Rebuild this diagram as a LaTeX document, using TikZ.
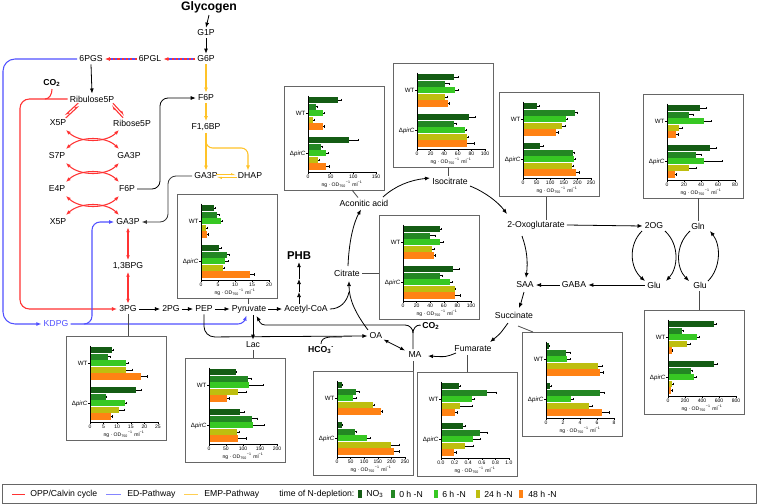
\documentclass[tikz,border=0pt]{standalone}
\usepackage{fontspec}
\setmainfont{Liberation Sans}
\usetikzlibrary{arrows.meta}
\definecolor{col1}{RGB}{20,92,20}
\definecolor{col2}{RGB}{35,135,35}
\definecolor{col3}{RGB}{55,200,35}
\definecolor{col4}{RGB}{190,190,15}
\definecolor{col5}{RGB}{255,130,20}
\definecolor{oppred}{RGB}{255,50,50}
\definecolor{edblue}{RGB}{80,80,255}
\definecolor{empyel}{RGB}{255,195,40}
\tikzset{
 lab/.style={font=\fontsize{6.5}{7.5}\selectfont, inner sep=1.5pt},
 blab/.style={font=\bfseries\fontsize{6.5}{7.5}\selectfont, inner sep=1.5pt},
 myarr/.style={-{Latex[length=3.8pt,width=3pt]}},
 mydarr/.style={{Latex[length=3.6pt,width=2.8pt]}-{Latex[length=3.6pt,width=2.8pt]}},
 myharp/.style={-{Latex[length=3.2pt,width=2.6pt,left]}},
 blk/.style={draw=black, line width=0.6pt},
 redl/.style={draw=oppred, line width=0.8pt},
 bluel/.style={draw=edblue, line width=0.8pt},
 yel/.style={draw=empyel, line width=0.8pt},
 conn/.style={draw=black!70, line width=0.6pt},
 chartbox/.style={draw=black!60, line width=0.7pt, fill=white},
 ticklab/.style={font=\fontsize{3.8}{4.4}\selectfont, inner sep=0pt},
 grplab/.style={font=\fontsize{4.6}{5.2}\selectfont, inner sep=0.5pt, anchor=east},
 axtitle/.style={font=\fontsize{3.8}{4.4}\selectfont, inner sep=0pt},
}
% #1 left, #2 top, #3 axis max, #4 tick labels, #5 value/error list (5 WT, 5 pirC)
\newcommand{\barchart}[5]{%
\begin{scope}[shift={(#1,#2)}]
 \draw[chartbox] (0,0) rectangle (100,104);
 \foreach \v/\e [count=\i] in {#5}{
   \pgfmathsetmacro{\yy}{11+(\i-1)*6.6+7*(\i>5)}
   \pgfmathtruncatemacro{\ci}{mod(\i-1,5)+1}
   \pgfmathsetmacro{\xl}{24+\v/#3*68}
   \pgfmathsetmacro{\xe}{24+(\v+\e)/#3*68}
   \fill[col\ci] (24,\yy) rectangle (\xl,\yy+6.1);
   \draw[line width=0.4pt] (\xl,\yy+3.05) -- (\xe,\yy+3.05) (\xe,\yy+1.9) -- (\xe,\yy+4.2);
 }
 \draw[line width=0.5pt] (24,9.5) -- (24,86) -- (92,86);
 \foreach \t in {#4}{
   \pgfmathsetmacro{\tx}{24+\t/#3*68}
   \draw[line width=0.4pt] (\tx,86) -- (\tx,87.6);
   \node[ticklab] at (\tx,91) {\t};
 }
 \draw[line width=0.4pt] (22.3,27.5) -- (24,27.5) (22.3,67.5) -- (24,67.5);
 \node[grplab] at (22.3,27.5) {WT};
 \node[grplab] at (22.3,67.5) {Δ\textit{pirC}};
 \node[axtitle] at (58,98.5) {ng · OD\textsubscript{750}\textsuperscript{−1}\,\,ml\textsuperscript{−1}};
\end{scope}}

\begin{document}
\begin{tikzpicture}[x=0.75pt,y=-0.75pt]
\useasboundingbox (0,0) rectangle (758,504);
\fill[white] (0,0) rectangle (758,504);

% ---------- charts ----------
\barchart{284}{86}{150}{0,50,100,150}{66/7,18/3,33/2,11/3,33/2,91/20,29/3,40/5,22/3,40/6}
\barchart{393}{63}{100}{0,20,40,60,80,100}{55/5,41/6,56/4,41/4,45/3,77/8,54/4,71/2,74/1,74/10}
\barchart{499}{92}{250}{0,50,100,150,200,250}{50/10,190/8,159/5,144/12,121/8,63/12,184/5,188/5,181/5,196/12}
\barchart{643}{94}{80}{0,20,40,60,80}{39/7,26/5,43/9,14/4,10/3,50/8,34/6,44/21,26/9,9/2}
\barchart{177}{194}{20}{0,5,10,15,20}{3.8/0.5,4.8/0.5,5.8/0.6,1.6/0.3,1.8/0.4,5.4/0.6,7.6/0.6,7.2/0.7,6.4/0.5,14.4/1.2}
\barchart{66}{336}{25}{0,5,10,15,20,25}{8.1/0.3,6.6/1,13.4/0.8,13.4/2,18.7/2.5,16.9/2,5.7/0.3,12.8/0.5,10.6/2,7.8/0.4}
\barchart{185}{358}{200}{0,50,100,150,200}{78/3,116/8,119/42,86/23,53/8,90/15,126/15,129/33,83/5,86/23}
\barchart{379}{215}{100}{0,20,40,60,80,100}{54/3,40/8,55/4,42/4,45/3,74/9,54/4,69/3,76/1,76/8}
\barchart{313}{371}{250}{0,50,100,150,200,250}{18/2,71/10,60/10,131/6,160/8,19/2,67/4,109/15,199/30,208/20}
\barchart{417}{372}{1.0}{0.0,0.2,0.4,0.6,0.8,1.0}{0.26/0.03,0.68/0.13,0.45/0.04,0.28/0.18,0.20/0.04,0.32/0.03,0.58/0.1,0.47/0.11,0.35/0.12,0.19/0.04}
\barchart{522}{332}{8}{0,2,4,6,8}{0.3/0.1,2.4/0.4,2.5/0.3,6.1/0.5,6.4/0.3,0.5/0.1,6.3/0.5,2.9/0.3,5.1/0.3,6.6/0.8}
\barchart{644}{310}{800}{0,200,400,600,800}{545/20,166/10,347/20,222/40,44/5,537/40,275/15,307/30,52/15,40/5}

% ---------- nodes ----------
\node[font=\bfseries\fontsize{9.2}{10}\selectfont, inner sep=1.5pt] (glyc) at (209,7) {Glycogen};
\node[lab] (g1p) at (206,33) {G1P};
\node[lab] (g6p) at (206,59) {G6P};
\node[lab] (pgl) at (150,59) {6PGL};
\node[lab] (pgs) at (91,59) {6PGS};
\node[blab] (co2a) at (52,83) {CO\textsubscript{2}};
\node[lab] (ru5p) at (92,99) {Ribulose5P};
\node[lab] (x5pa) at (58,123) {X5P};
\node[lab] (r5p) at (132,123) {Ribose5P};
\node[lab] (s7p) at (57,156) {S7P};
\node[lab] (ga3pb) at (129,156) {GA3P};
\node[lab] (e4p) at (57,189) {E4P};
\node[lab] (f6pb) at (127,189) {F6P};
\node[lab] (x5pc) at (58,222) {X5P};
\node[lab] (ga3pc) at (128,222) {GA3P};
\node[lab] (bpg) at (128,266) {1,3BPG};
\node[lab] (pg3) at (128,309) {3PG};
\node[lab] (pg2) at (171,309) {2PG};
\node[lab] (pep) at (204,309) {PEP};
\node[lab] (pyr) at (249,309) {Pyruvate};
\node[lab, text=edblue] (kdpg) at (56,324) {KDPG};
\node[lab] (lac) at (253,345) {Lac};
\node[lab] (accoa) at (306,309) {Acetyl-CoA};
\node[font=\bfseries\fontsize{8.5}{9.5}\selectfont, inner sep=1.5pt] (phb) at (299,256) {PHB};
\node[lab] (cit) at (347,273) {Citrate};
\node[lab] (acon) at (364,203) {Aconitic acid};
\node[lab] (iso) at (450,181) {Isocitrate};
\node[lab] (oxo) at (536,225) {2-Oxoglutarate};
\node[lab] (saa) at (525,285) {SAA};
\node[lab] (gaba) at (574,285) {GABA};
\node[lab] (succ) at (514,315) {Succinate};
\node[lab] (fum) at (473,349) {Fumarate};
\node[lab] (ma) at (415,355) {MA};
\node[lab] (oa) at (376,336) {OA};
\node[blab] (co2b) at (431,326) {CO\textsubscript{2}};
\node[blab] (hco3) at (321,350) {HCO\textsubscript{3}\textsuperscript{-}};
\node[lab] (og) at (654,226) {2OG};
\node[lab] (gln) at (698,226) {Gln};
\node[lab] (glua) at (654,285) {Glu};
\node[lab] (glub) at (700,285) {Glu};
\node[lab] (f6pa) at (206,98) {F6P};
\node[lab] (f16bp) at (206,127) {F1,6BP};
\node[lab] (ga3pa) at (206,176) {GA3P};
\node[lab] (dhap) at (250,176) {DHAP};

% ---------- top: glycogen ----------
\draw[blk, myarr] (glyc.south) -- (g1p.north);
\draw[blk, myarr] (g1p.south) -- (g6p.north);
\draw[bluel] (g6p.west) -- ([xshift=3pt]pgl.east);
\draw[redl, dash pattern=on 1.6pt off 1.6pt, myarr] (g6p.west) -- (pgl.east);
\draw[bluel] (pgl.west) -- ([xshift=3pt]pgs.east);
\draw[redl, dash pattern=on 1.6pt off 1.6pt, myarr] (pgl.west) -- (pgs.east);
\draw[blk, myarr] (pgs.south) -- (ru5p.north);

% EMP yellow
\draw[yel, myarr] (g6p.south) -- (f6pa.north);
\draw[yel, myarr] (f6pa.south) -- (f16bp.north);
\draw[yel, myarr] (f16bp.south) -- (ga3pa.north);
\draw[yel, myarr, rounded corners=5] (206,138) -- (206,148) -- (248,148) -- (248,170.5);
\draw[yel, myharp] (216,174.8) -- (237,174.8);
\draw[yel, myharp] (237,177.4) -- (216,177.4);

% OPP red
\draw[redl, myharp] (78.2,103.1) -- (64.2,116.1);
\draw[redl, myharp] (65.8,117.9) -- (79.8,104.9);
\draw[redl, myharp] (112.9,103.2) -- (124.9,116.2);
\draw[redl, myharp] (123.1,117.8) -- (111.1,104.8);
\foreach \ya/\yb in {123/156,156/189,189/222}{
  \draw[redl, mydarr] (66,\ya+7) .. controls (80,\ya+20) and (106,\ya+20) .. (119,\ya+7);
  \draw[redl, mydarr] (66,\yb-7) .. controls (80,\yb-20) and (106,\yb-20) .. (119,\yb-7);
}
\draw[redl, myarr, rounded corners=7] (ru5p.west) -- (20,99) -- (20,309) -- (pg3.west);
\draw[redl] (co2a.south) to[out=-90,in=0] (45,99);
\draw[redl, mydarr] (ga3pc.south) -- (bpg.north);
\draw[redl, mydarr] (bpg.south) -- (pg3.north);

% F6P and GA3P links
\draw[blk, myarr, rounded corners=6] (f6pb.east) -- (160,189) -- (160,98) -- (f6pa.west);
\draw[black!80, line width=0.6pt, myarr, rounded corners=6] (ga3pa.west) -- (168,176) -- (168,222) -- (ga3pc.east);

% ED blue
\draw[bluel, myarr, rounded corners=9] (pgs.west) -- (3,59) -- (3,324) -- (kdpg.west);
\draw[bluel, myarr] (kdpg.east) -- (238,324) to[out=0,in=-110] (246.5,315.5);
\draw[bluel, myarr, rounded corners=6] (84,324) -| (92,222) -- (ga3pc.west);

% lower glycolysis
\draw[blk, myarr] (pg3.east) -- (pg2.west);
\draw[blk, myarr] (pg2.east) -- (pep.west);
\draw[blk, myarr] (pep.east) -- (pyr.west);
\draw[blk, myarr] (pyr.east) -- (accoa.west);
\draw[blk, myarr] (pyr.south -| lac) -- (lac.north);
\draw[blk, myarr, rounded corners=8] (pep.south) -- (204,337) -- (oa.west);
\draw[blk] (hco3.north) to[out=90,in=180] (342,337);
\draw[blk, myarr] (413,349) -- (413,333) to[out=90,in=0] (405,325) -- (265,325) to[out=180,in=-60] (256.5,316);
\draw[blk] (413,333) to[out=90,in=180] (420,325) -- (co2b.west);
\draw[blk, mydarr] (383.5,339.5) -- (405,350.5);

% PHB
\draw[blk, myarr] (299,304) -- (299,292);
\draw[blk, myarr] (299,292) -- (299,279);
\draw[blk, myarr] (299,279) -- (phb.south);

% TCA
\draw[blk, myarr] (368,330) .. controls (356,314) and (349,300) .. (349,281);
\draw[blk] (accoa.east) .. controls (340,309) and (347,302) .. (349,292);
\draw[blk, myarr] (348,266) .. controls (349,240) and (354,222) .. (361,209.5);
\draw[blk, myarr] (383,197) .. controls (395,186) and (410,180) .. (430,178);
\draw[blk, myarr] (470,186) .. controls (485,192) and (498,202) .. (507,214);
\draw[blk, myarr] (522,236) .. controls (527,250) and (528,262) .. (526,278);
\draw[blk, myarr] (gaba.west) -- (saa.east);
\draw[blk, myarr] (glua.west) -- (gaba.east);
\draw[blk, myarr] (oxo.east) -- (og.west);
\draw[blk, myarr] (524,292) .. controls (523,298) .. (519,308);
\draw[blk, myarr] (508,323) .. controls (500,334) .. (490,342);
\draw[blk, myarr] (456,353) .. controls (446,357) .. (428,356);

% GS/GOGAT
\draw[blk, myarr] (642,231) .. controls (628,245) and (630,268) .. (645,281);
\draw[blk, myarr] (665,231) .. controls (680,245) and (678,268) .. (666,281);
\draw[blk, myarr] (690,231) .. controls (675,245) and (676,268) .. (689,281);
\draw[blk, myarr] (708,281) .. controls (721,268) and (721,245) .. (710,231);

% chart connectors
\draw[conn] (352,190) -- (358,197.5);
\draw[conn] (448,167) -- (448,176);
\draw[conn] (546,197) -- (546,220);
\draw[conn] (698,198) -- (gln.north);
\draw[conn] (248,298) -- (248,303.5);
\draw[conn] (pg3.south) -- (128,336);
\draw[conn] (lac.south) -- (253,358);
\draw[conn] (cit.east) -- (379,273);
\draw[conn] (413,361) -- (413,371);
\draw[conn] (467,355) -- (467,372);
\draw[conn] (518,326) -- (533,332);
\draw[conn] (699,291) -- (699,310);

% ---------- legend ----------
\draw[black!60, line width=0.7pt] (2,484) rectangle (756,503);
\draw[oppred, line width=0.6pt] (12,494) -- (25,494);
\node[lab, anchor=west] (lg1) at (28,494) {OPP/Calvin cycle};
\draw[edblue!70, line width=0.6pt] (106,494) -- (121,494);
\node[lab, anchor=west] (lg2) at (125,494) {ED-Pathway};
\draw[empyel!80, line width=0.6pt] (184,494) -- (198,494);
\node[lab, anchor=west] (lg3) at (202,494) {EMP-Pathway};
\node[lab, anchor=west] (lg4) at (277,494) {time of N-depletion:};
\fill[col1] (358,490) rectangle (362,498);
\node[lab, anchor=west] (lg5) at (364,494) {NO\textsubscript{3}};
\fill[col2] (391,490) rectangle (395,498);
\node[lab, anchor=west] (lg6) at (397,494) {0 h -N};
\fill[col3] (434,490) rectangle (438,498);
\node[lab, anchor=west] (lg7) at (440,494) {6 h -N};
\fill[col4] (476,490) rectangle (480,498);
\node[lab, anchor=west] (lg8) at (482,494) {24 h -N};
\fill[col5] (519,490) rectangle (523,498);
\node[lab, anchor=west] (lg9) at (526,494) {48 h -N};
\end{tikzpicture}
\end{document}
